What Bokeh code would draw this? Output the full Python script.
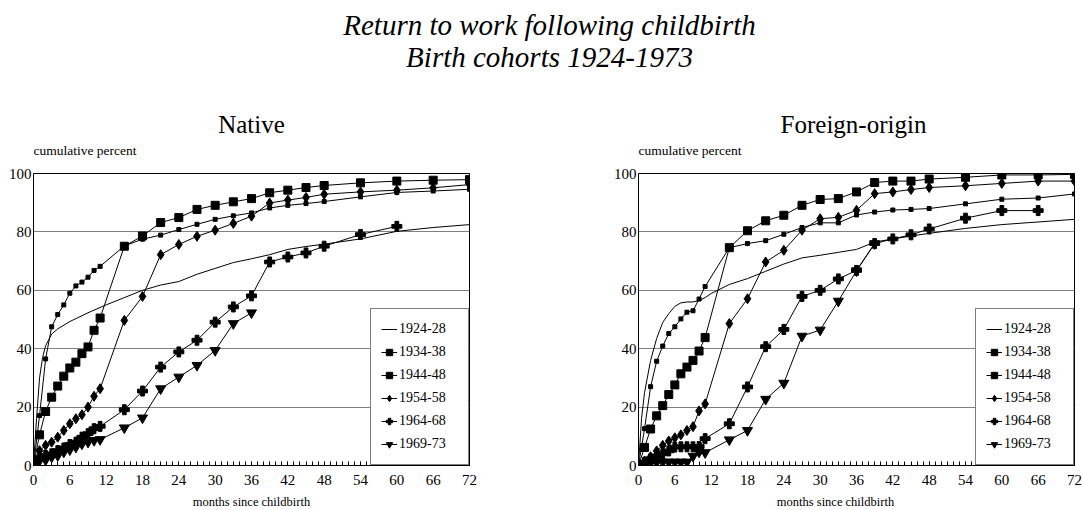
from bokeh.plotting import figure
from bokeh.models import (Label, Legend, LegendItem, SingleIntervalTicker, Range1d)
from bokeh.layouts import column, row
from bokeh.embed import file_html
from bokeh.resources import INLINE

FONT = "Liberation Serif"

# ---------------- data ----------------
cohorts = ["1924-28", "1934-38", "1944-48", "1954-58", "1964-68", "1969-73"]

months = [0, 1, 2, 3, 4, 5, 6, 7, 8, 9, 10, 11,
          15, 18, 21, 24, 27, 30, 33, 36, 39, 42, 45, 48,
          54, 60, 66, 72]

# Native
native_1924_months = [0, 0.5, 1, 1.5, 2, 3, 4, 6, 9, 12, 15, 18, 21, 24, 27, 30,
                      33, 36, 39, 42, 45, 48, 54, 60, 66, 72]
native_1924 = [0, 16, 30, 37, 41, 45, 46.8, 49.3, 52.3, 55, 57.5, 60, 61.8, 63,
               65.5, 67.5, 69.5, 70.8, 72.2, 74, 75, 75.8, 77.6, 80.2, 81.5, 82.5]
native_1934 = [0, 17.1, 36.5, 47.5, 51.7, 55, 59, 61.5, 62.8, 64.5, 66.8, 68.2,
               75.2, 77.5, 78.9, 80.8, 82.6, 84.3, 85.5, 86.5, 88.2, 89.1, 89.7, 90.4,
               92, 93.5, 94, 94.6]
native_1944 = [0, 10.5, 18.5, 23.4, 27.2, 30.6, 33.4, 35.4, 38.3, 40.6, 46.3, 50.5,
               75.1, 78.6, 83.2, 84.9, 87.7, 89.1, 90.3, 91.4, 93.4, 94.3, 95.2, 95.9,
               96.8, 97.4, 97.7, 97.9]
native_1954 = [0, 5.1, 6.9, 8, 9.7, 12, 14.3, 16, 17.4, 20, 23.7, 26.3,
               49.7, 57.9, 72.2, 75.7, 78.5, 80.6, 82.9, 85.4, 89.9, 90.9, 91.8, 92.9,
               93.7, 94.3, 95.1, 96.2]
native_1964 = [0, 2.9, 3.4, 4, 5.1, 6, 7.2, 8, 9.7, 10.9, 12.6, 13.4,
               19.1, 25.5, 33.7, 38.9, 42.9, 49.1, 54.3, 58.1, 69.7, 71.4, 72.8, 75.1,
               79.1, 81.9]
native_1969 = [0, 1.7, 1.9, 2.9, 3.4, 4.6, 5.4, 6.3, 7.4, 8, 8.6, 8.9,
               12.9, 16.3, 26.3, 30.3, 34.3, 39.4, 48.6, 52.3]

# Foreign-origin
foreign_1924_months = [0, 0.5, 1, 2, 3, 4, 5, 6, 7, 8, 9, 10, 11, 12, 15, 18, 21, 24,
                       27, 30, 33, 36, 39, 42, 45, 48, 54, 60, 66, 72]
foreign_1924 = [0, 16, 25, 36, 43.5, 49, 52, 54.5, 55.7, 56, 56, 56.5, 57.5, 58.9,
                62, 64, 66.5, 69, 71.1, 72, 73, 74, 76.5, 77.6, 78.6, 79.5, 81.2,
                82.5, 83.4, 84.3]
foreign_1934 = [0, 12.6, 27, 35.7, 40.9, 45.2, 47.5, 50.2, 52.5, 53, 57, 61.3,
                74.6, 76, 77, 79.2, 81.5, 83.1, 83.1, 85.8, 86.8, 87.5, 87.7, 88,
                89.6, 91.2, 91.6, 93]
foreign_1944 = [0, 6.2, 12.5, 17, 20.5, 24.3, 27.6, 31.4, 33.7, 36, 39.2, 43.8,
                74.6, 80.4, 83.8, 85.7, 89.1, 91.1, 91.4, 93.7, 96.9, 97.4, 97.4, 98.1,
                98.7, 99.5, 99.5, 99.7]
foreign_1954 = [0, 1.5, 3, 5, 6.9, 8.4, 9.5, 10.5, 12, 13.3, 18.7, 21.1,
                48.6, 57.1, 69.7, 73.7, 80.6, 84.5, 85, 87.4, 93.1, 93.7, 94.5, 95.2,
                95.8, 96.6, 97.4, 97.4]
foreign_1964 = [0, 1.1, 2.3, 3.1, 4, 5, 6.3, 6.4, 6.4, 6.4, 6.5, 9.2,
                14.3, 26.9, 40.7, 46.6, 57.9, 60, 63.9, 66.8, 76, 77.6, 79, 81,
                84.7, 87.3, 87.3]
foreign_1969 = [0, 0.5, 1, 1.2, 1.2, 1.2, 1.2, 1.2, 1.2, 3.2, 4.6, 4.4,
                8.8, 12, 22.7, 28.2, 44.3, 46.4, 56.3, 66.7, 76]

x_ticks_interval = 6
y_ticks_interval = 20

# ---------------- styling ----------------
MARKERS = [None, "square", "square", "diamond", "plus", "inverted_triangle"]
SIZES = [0, 4, 8, 10, 10, 10]

W = 1083
TOP_H = 160      # title strip, page y 0..160
ROW_H = 334      # panels, page y 160..494 (frame 173..465)
BOT_H = 16       # x-axis captions, page y 494..510


def panel(series, width, b_left, b_right):
    p = figure(width=width, height=ROW_H, x_range=Range1d(0, 72), y_range=Range1d(0, 100),
               output_backend="svg", toolbar_location=None, title=None,
               min_border_left=b_left, min_border_right=b_right,
               min_border_top=13, min_border_bottom=ROW_H - 13 - 292)
    p.outline_line_color = "black"
    p.outline_line_width = 1
    p.background_fill_color = "white"
    p.border_fill_color = "white"

    p.xgrid.visible = False
    p.ygrid.grid_line_color = "#808080"
    p.ygrid.grid_line_width = 1

    p.xaxis.ticker = SingleIntervalTicker(interval=x_ticks_interval, num_minor_ticks=6)
    p.yaxis.ticker = SingleIntervalTicker(interval=y_ticks_interval, num_minor_ticks=0)
    for ax in (p.xaxis[0], p.yaxis[0]):
        ax.axis_line_color = "black"
        ax.major_label_text_font = FONT
        ax.major_label_text_font_size = "15px"
        ax.major_label_text_color = "black"
        ax.major_tick_line_color = "black"
        ax.minor_tick_line_color = "black"
    p.xaxis.major_tick_in = 4
    p.xaxis.major_tick_out = 0
    p.xaxis.minor_tick_in = 4
    p.xaxis.minor_tick_out = 0
    p.xaxis.major_label_standoff = 9
    p.yaxis.major_tick_in = 0
    p.yaxis.major_tick_out = 0
    p.yaxis.minor_tick_in = 0
    p.yaxis.minor_tick_out = 0
    p.yaxis.major_label_standoff = 2

    items = []
    for i, (xs, ys) in enumerate(series):
        rs = [p.line(xs, ys, line_color="black", line_width=1)]
        if MARKERS[i]:
            rs.append(p.scatter(xs, ys, marker=MARKERS[i], size=SIZES[i],
                                fill_color="black", line_color="black"))
        items.append(LegendItem(label=cohorts[i], renderers=rs))

    legend = Legend(items=items, location="bottom_right", margin=0, padding=10,
                    spacing=3, glyph_width=16, glyph_height=20, label_height=20,
                    label_standoff=2, label_width=59,
                    border_line_color="black", border_line_width=1,
                    background_fill_color="white", background_fill_alpha=1,
                    label_text_font=FONT, label_text_font_size="14px",
                    label_text_color="black")
    p.add_layout(legend)
    return p


native_series = [(native_1924_months, native_1924),
                 (months, native_1934), (months, native_1944), (months, native_1954),
                 (months[:len(native_1964)], native_1964),
                 (months[:len(native_1969)], native_1969)]
foreign_series = [(foreign_1924_months, foreign_1924),
                  (months, foreign_1934), (months, foreign_1944), (months, foreign_1954),
                  (months[:len(foreign_1964)], foreign_1964),
                  (months[:len(foreign_1969)], foreign_1969)]

# left panel: page x 0..540, frame 33..469 ; right panel: page x 540..1083, frame 638..1074
left = panel(native_series, width=540, b_left=33, b_right=71)
right = panel(foreign_series, width=543, b_left=98, b_right=9)


def strip(height):
    s = figure(width=W, height=height, x_range=Range1d(0, W), y_range=Range1d(0, height),
               output_backend="svg", toolbar_location=None, min_border=0, title=None,
               x_axis_location=None, y_axis_location=None)
    s.grid.visible = False
    s.outline_line_color = None
    s.background_fill_color = "white"
    s.border_fill_color = "white"
    return s


def txt(fig, x, y, text, size, align="center", style="normal"):
    fig.add_layout(Label(x=x, y=y, text=text, text_align=align,
                         text_baseline="middle", text_font=FONT,
                         text_font_style=style, text_font_size=size,
                         text_color="black"))


top = strip(TOP_H)
# page centre y -> strip y = TOP_H - page_y
txt(top, 549, TOP_H - 24, "Return to work following childbirth", "29px", style="italic")
txt(top, 549, TOP_H - 56.5, "Birth cohorts 1924-1973", "29px", style="italic")
txt(top, 251, TOP_H - 124, "Native", "25px")
txt(top, 853, TOP_H - 124, "Foreign-origin", "25px")
txt(top, 33, TOP_H - 149.5, "cumulative percent", "13.5px", align="left")
txt(top, 638, TOP_H - 149.5, "cumulative percent", "13.5px", align="left")

bottom = strip(BOT_H)
# page centre y -> strip y = 510 - page_y
txt(bottom, 251, 510 - 501.5, "months since childbirth", "12.5px")
txt(bottom, 835, 510 - 501.5, "months since childbirth", "12.5px")

layout = column(top, row(left, right, spacing=0), bottom, spacing=0)

open("out.html", "w").write(file_html(layout, INLINE))
